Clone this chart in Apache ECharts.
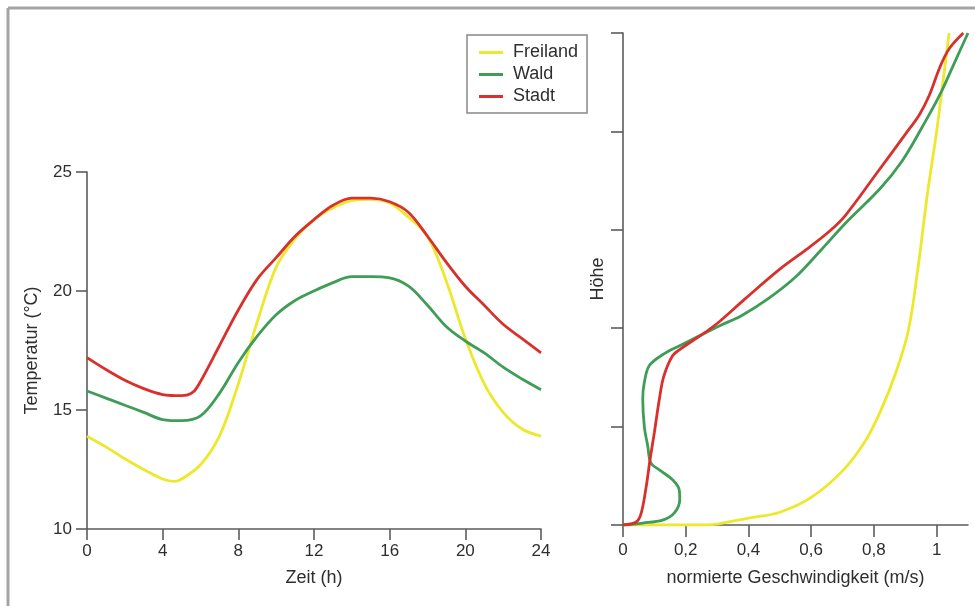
<!DOCTYPE html>
<html>
<head>
<meta charset="utf-8">
<script src="https://cdn.jsdelivr.net/npm/echarts@6/dist/echarts.min.js"></script>
<style>
html,body{margin:0;padding:0;background:#fff;}
#c{width:975px;height:606px;}
</style>
</head>
<body>
<div id="c"></div>
<script>
// ---- Data ----
var seriesNames = ['Freiland', 'Wald', 'Stadt'];
var colors = ['#eee82c', '#3f9d57', '#d9302c'];

// Left chart: temperature over time of day [h, °C]
var tempFreiland = [[0,13.9],[1,13.45],[2,12.95],[3,12.5],[4,12.1],[4.6,12.0],[5,12.1],[6,12.7],[7,13.9],[8,16.1],[9,18.7],[10,21.0],[11,22.2],[12,23.0],[13,23.5],[14,23.8],[15,23.85],[16,23.7],[17,23.1],[18,22.3],[19,20.4],[20,18.0],[21,16.1],[22,14.9],[23,14.2],[24,13.9]];
var tempWald = [[0,15.8],[1,15.5],[2,15.2],[3,14.9],[4,14.6],[5,14.55],[6,14.75],[7,15.7],[8,17.0],[9,18.1],[10,19.0],[11,19.6],[12,20.0],[13,20.35],[14,20.6],[15,20.6],[16,20.55],[17,20.2],[18,19.4],[19,18.5],[20,17.9],[21,17.4],[22,16.8],[23,16.3],[24,15.85]];
var tempStadt = [[0,17.2],[1,16.7],[2,16.25],[3,15.9],[4,15.65],[5,15.6],[5.6,15.75],[6,16.2],[7,17.7],[8,19.2],[9,20.5],[10,21.4],[11,22.3],[12,23.0],[13,23.6],[14,23.9],[15,23.9],[16,23.75],[17,23.3],[18,22.3],[19,21.2],[20,20.2],[21,19.4],[22,18.6],[23,18.0],[24,17.4]];

// Right chart: normalized wind speed vs. height [speed, height]
var windFreiland = [[0,0],[0.25,0],[0.3,0.01],[0.4,0.07],[0.5,0.13],[0.6,0.28],[0.7,0.55],[0.77,0.84],[0.82,1.15],[0.87,1.55],[0.91,1.98],[0.94,2.6],[0.97,3.35],[1.0,4.0],[1.02,4.5],[1.04,5.0]];
var windWald = [[0,0],[0.063,0.02],[0.126,0.05],[0.163,0.12],[0.181,0.26],[0.179,0.36],[0.158,0.46],[0.116,0.56],[0.089,0.63],[0.079,0.8],[0.068,1.0],[0.063,1.28],[0.068,1.45],[0.084,1.62],[0.126,1.73],[0.179,1.82],[0.242,1.92],[0.305,2.02],[0.379,2.13],[0.463,2.3],[0.55,2.52],[0.63,2.79],[0.71,3.07],[0.82,3.42],[0.89,3.7],[0.955,4.05],[1.01,4.37],[1.06,4.72],[1.10,5.0]];
var windStadt = [[0,0],[0.042,0.03],[0.058,0.12],[0.074,0.39],[0.086,0.66],[0.1,0.94],[0.116,1.28],[0.13,1.51],[0.158,1.72],[0.184,1.79],[0.221,1.87],[0.263,1.96],[0.305,2.06],[0.39,2.3],[0.5,2.6],[0.585,2.8],[0.66,2.99],[0.71,3.15],[0.81,3.58],[0.9,3.97],[0.945,4.17],[0.977,4.37],[1.01,4.65],[1.04,4.84],[1.085,5.0]];

var timeTicks = [0, 4, 8, 12, 16, 20, 24];
var tempTicks = [10, 15, 20, 25];
var speedTicks = [0, 0.2, 0.4, 0.6, 0.8, 1];

// ---- Chart ----
var axisCol = '#5c5c5c';
var txtCol = '#2e2e2e';
var font = 'Liberation Sans, Arial, Helvetica, sans-serif';

function lineSeries(name, data, idx, color) {
  return {
    name: name, type: 'line', data: data,
    xAxisIndex: idx, yAxisIndex: idx,
    smooth: 0.35, symbol: 'none',
    lineStyle: { color: color, width: 2.8 },
    itemStyle: { color: color },
    silent: true
  };
}

var chart = echarts.init(document.getElementById('c'), null, { renderer: 'canvas' });
chart.setOption({
  animation: false,
  backgroundColor: '#fff',
  textStyle: { fontFamily: font },
  graphic: [
    { type: 'line', shape: { x1: 8, y1: 8, x2: 975, y2: 8 }, style: { stroke: '#a3a3a3', lineWidth: 3 } },
    { type: 'line', shape: { x1: 8, y1: 8, x2: 8, y2: 606 }, style: { stroke: '#a3a3a3', lineWidth: 3 } }
  ],
  legend: {
    data: seriesNames,
    orient: 'vertical',
    left: 467, top: 35,
    padding: [8, 9, 7, 12],
    itemGap: 3,
    itemWidth: 24, itemHeight: 3,
    icon: 'rect',
    borderColor: '#888', borderWidth: 1.5,
    textStyle: { color: txtCol, fontSize: 18, fontFamily: font, lineHeight: 19, padding: [0, 0, 0, 5] }
  },
  grid: [
    { left: 87, top: 172, width: 454, height: 357 },
    { left: 623, top: 33, width: 345, height: 492 }
  ],
  xAxis: [
    {
      gridIndex: 0, type: 'value', min: 0, max: 24, interval: 4,
      name: 'Zeit (h)', nameLocation: 'middle', nameGap: 40,
      nameTextStyle: { color: txtCol, fontSize: 18, fontFamily: font },
      axisLine: { show: true, lineStyle: { color: axisCol, width: 1.6 } },
      axisTick: { show: true, length: 11, lineStyle: { color: axisCol, width: 1.6 }, customValues: timeTicks },
      axisLabel: { color: txtCol, fontSize: 17, margin: 14, fontFamily: font, customValues: timeTicks },
      splitLine: { show: false }
    },
    {
      gridIndex: 1, type: 'value', min: 0, max: 1.1,
      name: 'normierte Geschwindigkeit (m/s)', nameLocation: 'middle', nameGap: 44,
      nameTextStyle: { color: txtCol, fontSize: 18, fontFamily: font },
      axisLine: { show: true, lineStyle: { color: axisCol, width: 1.6 } },
      axisTick: { show: true, length: 12, lineStyle: { color: axisCol, width: 1.6 }, customValues: speedTicks },
      axisLabel: { color: txtCol, fontSize: 17, margin: 17, fontFamily: font, customValues: speedTicks,
        formatter: function (v) { return String(v).replace('.', ','); } },
      splitLine: { show: false }
    }
  ],
  yAxis: [
    {
      gridIndex: 0, type: 'value', min: 10, max: 25, interval: 5,
      name: 'Temperatur (°C)', nameLocation: 'middle', nameGap: 46,
      nameTextStyle: { color: txtCol, fontSize: 18, fontFamily: font },
      axisLine: { show: true, lineStyle: { color: axisCol, width: 1.6 } },
      axisTick: { show: true, length: 11, lineStyle: { color: axisCol, width: 1.6 }, customValues: tempTicks },
      axisLabel: { color: txtCol, fontSize: 17, margin: 15, fontFamily: font, customValues: tempTicks },
      splitLine: { show: false }
    },
    {
      gridIndex: 1, type: 'value', min: 0, max: 5, interval: 1,
      name: 'Höhe', nameLocation: 'middle', nameGap: 16,
      nameTextStyle: { color: txtCol, fontSize: 18, fontFamily: font },
      axisLine: { show: true, lineStyle: { color: axisCol, width: 1.6 } },
      axisTick: { show: true, length: 12, lineStyle: { color: axisCol, width: 1.6 } },
      axisLabel: { show: false },
      splitLine: { show: false }
    }
  ],
  series: [
    lineSeries(seriesNames[0], tempFreiland, 0, colors[0]),
    lineSeries(seriesNames[1], tempWald, 0, colors[1]),
    lineSeries(seriesNames[2], tempStadt, 0, colors[2]),
    lineSeries(seriesNames[0], windFreiland, 1, colors[0]),
    lineSeries(seriesNames[1], windWald, 1, colors[1]),
    lineSeries(seriesNames[2], windStadt, 1, colors[2])
  ]
});
</script>
</body>
</html>
